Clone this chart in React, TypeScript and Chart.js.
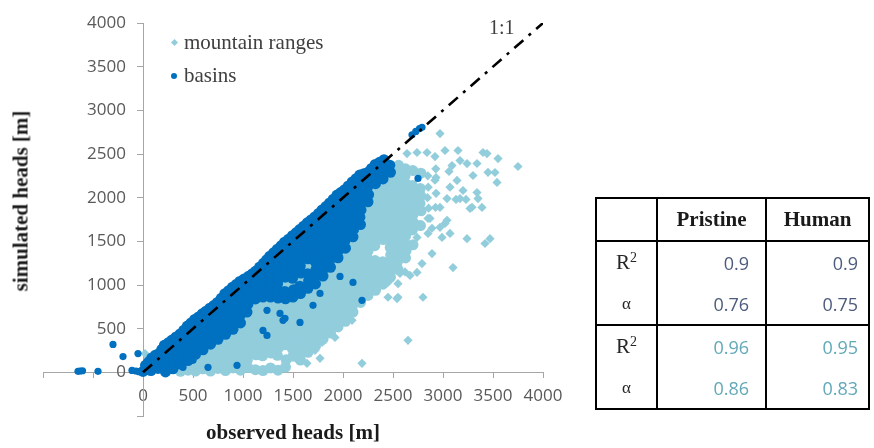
import React, { useEffect, useRef } from 'react';
import { Chart, registerables } from 'chart.js';

Chart.register(...registerables);

// ---------- axis values ----------
const xRange = [-1000, 4000];
const yRange = [-500, 4000];
const tickStep = 500;

// ---------- 1:1 reference line ----------
const oneToOne = [[0, 0], [4000, 4000]];

// ---------- basins (dark blue) : dense cloud ----------
const basinsCore = [
  [0,10],[25,80],[55,30],
  [80,20],[70,100],[88,165],
  [150,45],[142,130],[158,215],
  [225,5],[218,90],[232,175],[226,255],[214,310],
  [300,40],[306,125],[294,210],[302,295],[290,370],
  [375,95],[381,175],[369,262],[378,345],[371,440],
  [450,135],[456,215],[444,300],[451,385],[457,470],[443,530],
  [525,205],[519,285],[531,370],[524,455],[518,540],[516,605],
  [600,258],[606,340],[597,425],[603,512],[599,596],[592,670],
  [676,322],[669,405],[681,490],[674,575],[671,662],[668,735],
  [750,378],[756,460],[747,545],[753,630],[749,715],[744,800],
  [826,435],[821,518],[830,602],[824,688],[819,772],[827,857],[818,900],
  [900,492],[906,576],[896,660],[902,745],[898,832],[905,915],[894,975],
  [975,566],[969,648],[980,732],[973,815],[978,900],[970,988],[968,1040],
  [1040,690],[1050,782],[1046,866],[1053,950],[1049,1034],[1055,1100],
  [1125,840],[1119,924],[1130,1008],[1123,1092],[1128,1160],
  [1200,862],[1206,946],[1196,1030],[1203,1114],[1198,1198],[1205,1250],
  [1275,862],[1269,946],[1280,1030],[1273,1114],[1278,1198],[1271,1282],[1268,1330],
  [1350,850],[1356,934],[1346,1018],[1353,1102],[1349,1186],[1355,1270],[1347,1354],[1343,1410],
  [1425,842],[1419,926],[1423,1090],[1428,1176],[1421,1262],[1426,1346],[1418,1432],[1415,1490],
  [1500,862],[1506,946],[1496,1076],[1503,1160],[1498,1246],[1505,1330],[1497,1416],[1502,1500],[1494,1565],
  [1575,902],[1569,986],[1580,1136],[1573,1220],[1578,1306],[1571,1390],[1576,1476],[1569,1560],[1566,1635],
  [1650,962],[1656,1046],[1646,1130],[1649,1300],[1655,1386],[1647,1470],[1652,1556],[1645,1640],[1642,1712],
  [1725,1012],[1719,1096],[1730,1180],[1723,1266],[1728,1350],[1721,1436],[1726,1520],[1719,1606],[1724,1690],[1717,1780],
  [1800,1102],[1806,1186],[1796,1270],[1803,1356],[1798,1440],[1805,1526],[1797,1610],[1802,1696],[1795,1780],[1790,1860],
  [1875,1202],[1869,1286],[1880,1370],[1873,1456],[1878,1540],[1871,1626],[1876,1710],[1869,1796],[1874,1880],[1866,1940],
  [1950,1312],[1956,1396],[1946,1480],[1953,1566],[1948,1650],[1955,1736],[1947,1820],[1952,1906],[1945,1990],[1940,2030],
  [2025,1422],[2019,1506],[2030,1590],[2023,1676],[2028,1760],[2021,1846],[2026,1930],[2019,2016],[2014,2090],
  [2100,1552],[2106,1636],[2096,1720],[2103,1806],[2098,1890],[2105,1976],[2097,2060],[2102,2146],[2092,2180],
  [2175,1692],[2169,1776],[2180,1860],[2173,1946],[2178,2030],[2171,2116],[2176,2200],[2168,2260],
  [2250,1952],[2256,2036],[2246,2120],[2253,2206],[2248,2290],
  [2325,2160],[2319,2246],[2330,2330],[2322,2380],
  [2400,2215],[2406,2300],[2396,2385],[2410,2435],
  [2475,2290],[2468,2372],
  // upper edge of the cloud
  [56,120],[122,195],[188,262],[252,338],[330,405],[408,482],[480,565],[555,635],[630,700],[706,765],
  [782,848],[856,935],[930,1005],[1010,1068],[1092,1128],[1166,1205],[1236,1288],[1305,1368],[1380,1448],
  [1455,1525],[1530,1598],[1604,1672],[1680,1745],[1754,1818],[1828,1898],[1903,1982],[1977,2058],
  [2053,2135],[2130,2218],[2208,2275],[2285,2335],[2365,2405],
];

// ---------- basins : isolated points ----------
const basinsSparse = [
  [400,57],[500,137],[650,57],[940,80],[1200,480],[1240,423],[1240,710],[1400,595],
  [1370,675],[1420,618],[1570,572],[1700,767],[1970,1098],[2100,1030],[2190,824],[1770,904],
  [2750,2220],[2690,2720],[2728,2758],[2765,2790],[2790,2805],
  [-650,12],[-630,15],[-605,18],[-450,12],[-300,320],[-200,180],[-50,215],[-110,22],[-70,15],[-40,8],
];

// ---------- mountain ranges (light blue) : dense cloud ----------
const mountainsCore = [
  [375,12],
  [450,25],[446,80],
  [525,15],[521,95],[530,150],
  [600,40],[606,125],[596,200],
  [675,15],[670,100],[681,185],[676,255],
  [750,45],[755,130],[746,215],[752,300],
  [825,20],[820,105],[830,190],[823,275],[828,360],
  [900,50],[906,135],[896,220],[903,305],[898,390],[905,440],
  [975,25],[969,110],[980,195],[973,280],[978,365],[971,450],[976,510],
  [1050,55],[1044,140],[1055,225],[1048,310],[1053,395],[1046,480],[1051,565],[1044,650],[1052,735],
  [1125,30],[1131,200],[1120,285],[1127,370],[1122,455],[1129,540],[1118,625],[1124,710],[1130,795],
  [1200,20],[1196,190],[1205,275],[1198,360],[1203,445],[1195,530],[1202,615],[1197,700],[1203,785],
  [1275,50],[1281,220],[1270,305],[1277,390],[1272,475],[1279,560],[1268,645],[1274,720],[1270,800],
  [1350,25],[1344,195],[1355,280],[1348,365],[1353,450],[1346,535],[1351,620],[1343,705],[1349,790],
  [1425,60],[1431,145],[1420,315],[1427,400],[1422,485],[1429,570],[1418,655],[1424,740],[1430,800],[1425,1005],
  [1500,185],[1494,270],[1505,355],[1498,440],[1503,525],[1496,610],[1501,695],[1493,780],[1500,990],
  [1575,140],[1581,225],[1570,310],[1577,395],[1572,480],[1579,565],[1568,650],[1574,735],[1580,820],[1560,1050],
  [1650,230],[1644,315],[1655,400],[1648,485],[1653,570],[1646,655],[1651,740],[1643,825],[1652,910],[1650,1215],
  [1725,300],[1731,385],[1720,470],[1727,555],[1722,640],[1729,725],[1718,810],[1724,895],[1730,960],
  [1800,380],[1794,465],[1805,550],[1798,635],[1803,720],[1796,805],[1801,890],[1793,975],[1799,1050],
  [1875,450],[1881,535],[1870,620],[1877,705],[1872,790],[1879,875],[1868,960],[1874,1045],[1880,1130],
  [1950,520],[1944,605],[1955,690],[1948,775],[1953,860],[1946,945],[1951,1030],[1943,1115],[1949,1200],[1955,1260],
  [2025,585],[2031,665],[2020,750],[2027,835],[2022,920],[2029,1005],[2018,1090],[2024,1175],[2030,1260],[2021,1345],
  [2100,690],[2094,765],[2105,850],[2098,935],[2103,1020],[2096,1105],[2101,1190],[2093,1275],[2099,1360],[2104,1445],[2110,1500],
  [2175,800],[2181,885],[2170,970],[2177,1055],[2172,1140],[2179,1225],[2168,1310],[2174,1395],[2180,1480],[2171,1565],[2176,1640],
  [2250,880],[2244,965],[2255,1050],[2248,1135],[2253,1220],[2246,1305],[2251,1390],[2243,1475],[2249,1560],[2255,1645],[2247,1730],[2252,1815],[2245,1900],
  [2325,940],[2331,1025],[2320,1110],[2327,1195],[2322,1280],[2318,1450],[2324,1535],[2330,1620],[2321,1705],[2326,1790],[2319,1875],[2325,1960],[2331,2045],[2320,2125],
  [2400,1010],[2394,1095],[2405,1180],[2398,1265],[2401,1520],[2393,1605],[2399,1690],[2405,1775],[2397,1860],[2402,1945],[2395,2030],[2400,2115],[2406,2180],
  [2475,1090],[2481,1175],[2470,1260],[2477,1345],[2472,1430],[2479,1515],[2468,1600],[2474,1685],[2480,1770],[2471,1855],[2476,1940],[2469,2025],[2475,2110],[2481,2195],[2472,2260],
  [2550,1180],[2544,1265],[2555,1350],[2548,1435],[2553,1520],[2546,1605],[2551,1690],[2543,1775],[2549,1860],[2555,1945],[2547,2030],[2552,2115],[2545,2200],[2550,2285],[2556,2370],
  [2625,1310],[2631,1395],[2620,1480],[2627,1565],[2622,1650],[2629,1735],[2618,1820],[2624,1905],[2630,1990],[2621,2075],[2626,2160],[2619,2245],[2625,2330],
  [2700,1460],[2694,1630],[2705,1715],[2698,1800],[2703,1885],[2696,1970],[2701,2055],[2693,2140],[2699,2310],
  [2775,1680],[2781,1850],[2770,1935],[2777,2020],[2772,2105],[2779,2280],
];

// ---------- mountain ranges : isolated points ----------
const mountainsSparse = [
  [20,215],[1550,137],[1640,103],[1770,160],[1720,252],[1790,343],[1920,400],[1850,458],[1820,538],
  [1940,515],[2040,630],[2090,595],[2100,767],[2240,915],[2190,103],[2370,995],[2450,860],[2550,860],
  [2450,1030],[2540,845],[2550,1015],[2570,1133],[2620,1150],[2670,1110],[2740,1144],[2650,366],
  [2800,860],[2790,1245],[2890,1360],[3100,1200],[2990,1545],[3070,1590],[2890,1650],[3040,1740],
  [3240,1530],[3420,1475],[3470,1530],[3290,1890],[2740,1545],[2650,1430],[2850,1590],[2970,1660],
  [2870,1762],[2970,1888],[3020,1705],[3040,1990],[3170,1990],[3270,1876],[3390,1888],[3350,1990],
  [3340,2059],[3200,2082],[3140,2197],[3060,2300],[3090,2368],[3170,2425],[3300,2254],[3340,2391],
  [3540,2174],[3520,2288],[3750,2357],[3550,2448],[3440,2505],[3400,2517],[3150,2540],[3020,2540],
  [2740,2517],[2970,2734],[2920,2470],[2840,2517],[2640,2505],[3240,2390],[3450,2290],[2930,2230],
  [3070,2120],[3130,1980],[3230,1980],
  [2850,1762],[2856,1880],[2845,2000],[2852,2120],[2848,2250],
  [2925,1888],[2931,2050],[2920,2200],[2928,2330],
];

// ---------- table ----------
const tableHeaders = ['', 'Pristine', 'Human'];
const statNames = ['R', 'α', 'R', 'α'];
const statSup = ['2', '', '2', ''];
const pristineVals = ['0.9', '0.76', '0.96', '0.86'];
const humanVals = ['0.9', '0.75', '0.95', '0.83'];
const groupColors = ['#4d5b7c', '#4d5b7c', '#62a9b8', '#62a9b8'];

const legendLabels = ['mountain ranges', 'basins'];

const DARK = '#0070c0';
const LIGHT = '#92cddc';
const AXIS = '#a6a6a6';

const toXY = (a: number[][]) => a.map(([x, y]) => ({ x, y }));

// y-axis labels of an axis crossing at x=0 get no padding in Chart.js; move them left of the tick marks
const yLabelGap = {
  id: 'yLabelGap',
  beforeDraw(chart: any) {
    const s = chart.scales.y;
    if (!s) return;
    const items = s.getLabelItems();
    if (items && !items.__shifted) {
      items.forEach((it: any) => { it.options.translation[0] -= 17; });
      items.__shifted = true;
    }
  },
};

export default function App() {
  const ref = useRef<HTMLCanvasElement>(null);

  useEffect(() => {
    const tickFont = { family: "'Open Sans', sans-serif", size: 17 };
    const chart = new Chart(ref.current as HTMLCanvasElement, {
      type: 'scatter',
      plugins: [yLabelGap],
      data: {
        datasets: [
          {
            label: '1:1',
            data: toXY(oneToOne),
            showLine: true,
            borderColor: '#000',
            borderWidth: 2.6,
            borderDash: [12, 7, 3, 7],
            pointRadius: 0,
            order: 0,
          } as any,
          {
            label: legendLabels[1],
            data: toXY(basinsSparse),
            backgroundColor: DARK,
            borderWidth: 0,
            pointRadius: 3.6,
            pointStyle: 'circle',
            order: 1,
          },
          {
            label: legendLabels[1] + ' (dense)',
            data: toXY(basinsCore),
            backgroundColor: DARK,
            borderWidth: 0,
            pointRadius: 5.5,
            pointStyle: 'circle',
            order: 2,
          },
          {
            label: legendLabels[0],
            data: toXY(mountainsSparse),
            backgroundColor: LIGHT,
            borderWidth: 0,
            pointRadius: 4.6,
            pointStyle: 'rectRot',
            order: 3,
          },
          {
            label: legendLabels[0] + ' (dense)',
            data: toXY(mountainsCore),
            backgroundColor: LIGHT,
            borderWidth: 0,
            pointRadius: 5.5,
            pointStyle: 'circle',
            order: 4,
          },
        ],
      },
      options: {
        animation: false,
        responsive: false,
        events: [],
        layout: { autoPadding: false, padding: { left: 43, right: 331, top: 23, bottom: 32 } },
        plugins: { legend: { display: false }, tooltip: { enabled: false } },
        scales: {
          x: {
            type: 'linear',
            min: xRange[0],
            max: xRange[1],
            position: { y: 0 } as any,
            afterFit: (s: any) => { s.height = 0; },
            ticks: {
              stepSize: tickStep,
              autoSkip: false,
              maxRotation: 0,
              color: '#595959',
              font: tickFont,
              padding: 9,
              callback: (v: any) => (Math.round(Number(v)) < 0 ? '' : String(v)),
            },
            grid: { drawOnChartArea: false, drawTicks: true, tickLength: 5, color: AXIS },
            border: { display: true, color: AXIS, width: 1 },
          },
          y: {
            type: 'linear',
            min: yRange[0],
            max: yRange[1],
            position: { x: 0 } as any,
            afterFit: (s: any) => { s.width = 0; },
            ticks: {
              stepSize: tickStep,
              autoSkip: false,
              color: '#595959',
              font: tickFont,
              padding: 12,
              callback: (v: any) => (Math.round(Number(v)) < 0 ? '' : String(v)),
            },
            grid: { drawOnChartArea: false, drawTicks: true, tickLength: 6, color: AXIS },
            border: { display: true, color: AXIS, width: 1 },
          },
        },
      },
    });
    return () => chart.destroy();
  }, []);

  const serif = "'Liberation Serif', 'Times New Roman', serif";
  const sans = "'Open Sans', sans-serif";
  const bTop = '2px solid #000';
  const cell = (i: number): React.CSSProperties => ({
    borderLeft: bTop,
    borderRight: bTop,
    borderTop: i === 0 || i === 2 ? bTop : 'none',
    borderBottom: i === 1 || i === 3 ? bTop : 'none',
    padding: 0,
    height: 41,
  });

  return (
    <div style={{ position: 'absolute', left: 0, top: 0, width: 874, height: 448, background: '#fff', overflow: 'hidden' }}>
      <canvas ref={ref} width={874} height={448} style={{ position: 'absolute', left: 0, top: 0 }} />

      {/* axis titles */}
      <div style={{ position: 'absolute', left: 21, top: 201, transform: 'translate(-50%, -50%) rotate(-90deg)', whiteSpace: 'nowrap', font: `bold 21px ${serif}`, color: '#1a1a1a' }}>
        simulated heads [m]
      </div>
      <div style={{ position: 'absolute', left: 293, top: 432, transform: 'translate(-50%, -50%)', whiteSpace: 'nowrap', font: `bold 21px ${serif}`, color: '#1a1a1a' }}>
        observed heads [m]
      </div>

      {/* legend */}
      <div style={{ position: 'absolute', left: 172, top: 40, width: 5, height: 5, background: LIGHT, transform: 'rotate(45deg)' }} />
      <div style={{ position: 'absolute', left: 184, top: 30, font: `21px ${serif}`, lineHeight: '24px', color: '#404040', whiteSpace: 'nowrap' }}>{legendLabels[0]}</div>
      <div style={{ position: 'absolute', left: 171, top: 73, width: 6, height: 6, borderRadius: 3, background: DARK }} />
      <div style={{ position: 'absolute', left: 184, top: 63, font: `21px ${serif}`, lineHeight: '24px', color: '#404040', whiteSpace: 'nowrap' }}>{legendLabels[1]}</div>

      {/* 1:1 label */}
      <div style={{ position: 'absolute', left: 489, top: 15, font: `20px ${serif}`, lineHeight: '24px', color: '#404040' }}>1:1</div>

      {/* table */}
      <table style={{ position: 'absolute', left: 595, top: 197, borderCollapse: 'collapse', tableLayout: 'fixed', width: 273 }}>
        <colgroup>
          <col style={{ width: 61 }} />
          <col style={{ width: 109 }} />
          <col style={{ width: 103 }} />
        </colgroup>
        <tbody>
          <tr>
            {tableHeaders.map((h, i) => (
              <td key={i} style={{ border: bTop, padding: 0, height: 41, textAlign: 'center', font: `bold 21px ${serif}`, color: '#1a1a1a' }}>{h}</td>
            ))}
          </tr>
          {statNames.map((n, i) => (
            <tr key={i}>
              <td style={{ ...cell(i), textAlign: 'center', font: `${statSup[i] ? 21 : 17}px ${serif}`, color: '#262626' }}>
                {n}
                {statSup[i] ? <span style={{ fontSize: 14, position: 'relative', top: -7 }}>{statSup[i]}</span> : null}
              </td>
              <td style={{ ...cell(i), textAlign: 'right', paddingRight: 16, font: `18px ${sans}`, color: groupColors[i] }}>{pristineVals[i]}</td>
              <td style={{ ...cell(i), textAlign: 'right', paddingRight: 10, font: `18px ${sans}`, color: groupColors[i] }}>{humanVals[i]}</td>
            </tr>
          ))}
        </tbody>
      </table>
    </div>
  );
}
